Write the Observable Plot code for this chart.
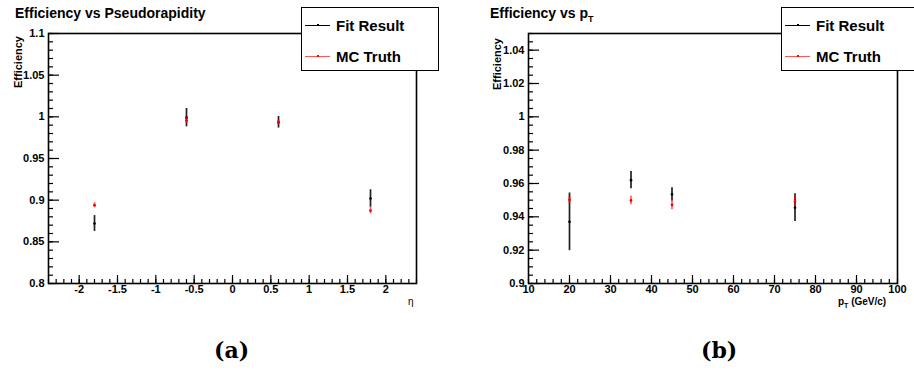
<!DOCTYPE html>
<html>
<head>
<meta charset="utf-8">
<script src="https://cdn.jsdelivr.net/npm/d3@7"></script>
<script src="https://cdn.jsdelivr.net/npm/@observablehq/plot@0.6"></script>
<style>
  html, body { margin: 0; padding: 0; background: #fff; }
  #wrap { position: relative; width: 914px; height: 392px; overflow: hidden; font-family: "Liberation Sans", Arial, sans-serif; }
  .panel { position: absolute; top: 0; }
  .abs { position: absolute; white-space: nowrap; color: #000; }
  .title { font-weight: bold; font-size: 14px; }
  .ylab { font-weight: bold; font-size: 11px; transform-origin: 0 0; transform: rotate(-90deg); }
  .legend { position: absolute; background: #fff; border: 1px solid #000; box-sizing: border-box; }
  .legend .row { position: absolute; font-weight: bold; font-size: 15px; line-height: 15px; }
  .legend .ln { position: absolute; height: 1px; }
  .legend .mk { position: absolute; width: 2px; height: 2px; }
  .cap { font-family: "DejaVu Serif", serif; font-weight: bold; font-size: 22px; }
</style>
</head>
<body>
<div id="wrap"></div>
<script>
// ---------- data ----------
const etaBins   = [-1.8, -0.6, 0.6, 1.8];
const etaFit    = [0.872, 0.999, 0.9935, 0.902];
const etaFitErr = [0.0095, 0.011, 0.007, 0.0105];
const etaMC     = [0.894, 0.9955, 0.9935, 0.8875];
const etaMCErr  = [0.003, 0.004, 0.003, 0.004];

const ptBins    = [20, 35, 45, 75];
const ptFit     = [0.937, 0.962, 0.9535, 0.9455];
const ptFitErr  = [0.0173, 0.0052, 0.004, 0.0083];
const ptMC      = [0.9502, 0.9498, 0.9472, 0.9492];
const ptMCErr   = [0.0025, 0.0025, 0.003, 0.0033];

// tick labels
const etaXTicks = [-2, -1.5, -1, -0.5, 0, 0.5, 1, 1.5, 2];
const etaYTicks = [0.8, 0.85, 0.9, 0.95, 1, 1.05, 1.1];
const ptXTicks  = [10, 20, 30, 40, 50, 60, 70, 80, 90, 100];
const ptYTicks  = [0.9, 0.92, 0.94, 0.96, 0.98, 1, 1.02, 1.04];

const series = (xs, ys, es) => xs.map((x, i) => ({x, y: ys[i], lo: ys[i] - es[i], hi: ys[i] + es[i]}));
const minor = (a, b, step) => d3.range(Math.round((b - a) / step) + 1).map(i => +(a + i * step).toFixed(4));
const fmt = d => String(+(+d).toFixed(3));

const H = 320, MT = 33, MB = 37;
const PH = H - MT - MB;

function panel({left, mL, mR, xDomain, yDomain, xTicks, yTicks, xMinorStep, yMinorStep, fit, mc}) {
  const W = 457;
  const PW = W - mL - mR;
  const xMin = minor(xDomain[0], xDomain[1], xMinorStep);
  const yMin = minor(yDomain[0], yDomain[1], yMinorStep);
  const p = Plot.plot({
    width: W, height: H,
    marginLeft: mL, marginRight: mR, marginTop: MT, marginBottom: MB,
    x: {domain: xDomain},
    y: {domain: yDomain},
    style: {fontFamily: "Liberation Sans, Arial, sans-serif", fontWeight: "bold", fontSize: "11px", background: "transparent", overflow: "visible", color: "#000"},
    marks: [
      // minor and major ticks, inside frame
      Plot.ruleX(xMin, {x: d => d, insetTop: PH - 4, stroke: "#000", strokeWidth: 1.2}),
      Plot.ruleX(xTicks.filter(v => v > xDomain[0] && v < xDomain[1]), {x: d => d, insetTop: PH - 8, stroke: "#000", strokeWidth: 1.2}),
      Plot.ruleY(yMin, {y: d => d, insetRight: PW - 5, stroke: "#000", strokeWidth: 1.2}),
      Plot.ruleY(yTicks, {y: d => d, insetRight: PW - 11, stroke: "#000", strokeWidth: 1.2}),
      Plot.axisX({ticks: xTicks, tickSize: 0, tickPadding: 2, tickFormat: fmt, label: null, fontSize: 11}),
      Plot.axisY({ticks: yTicks, tickSize: 0, tickPadding: 4, tickFormat: fmt, label: null, fontSize: 11}),
      Plot.frame({stroke: "#000", strokeWidth: 1.6}),
      // Fit result
      Plot.ruleX(fit, {x: "x", y1: "lo", y2: "hi", stroke: "#222", strokeWidth: 1.7}),
      Plot.dot(fit, {x: "x", y: "y", r: 1.3, fill: "#000", stroke: "none"}),
      // MC truth
      Plot.ruleX(mc, {x: "x", y1: "lo", y2: "hi", stroke: "red", strokeOpacity: 0.6, strokeWidth: 1.8}),
      Plot.dot(mc, {x: "x", y: "y", r: 1.4, fill: "red", stroke: "none"})
    ]
  });
  p.classList.add("panel");
  p.style.left = left + "px";
  return p;
}

const wrap = document.getElementById("wrap");

wrap.appendChild(panel({
  left: 0, mL: 48, mR: 41,
  xDomain: [-2.4, 2.4], yDomain: [0.8, 1.1],
  xTicks: etaXTicks, yTicks: etaYTicks, xMinorStep: 0.1, yMinorStep: 0.01,
  fit: series(etaBins, etaFit, etaFitErr),
  mc: series(etaBins, etaMC, etaMCErr)
}));

wrap.appendChild(panel({
  left: 457, mL: 71, mR: 17,
  xDomain: [10, 100], yDomain: [0.9, 1.05],
  xTicks: ptXTicks, yTicks: ptYTicks, xMinorStep: 2, yMinorStep: 0.005,
  fit: series(ptBins, ptFit, ptFitErr),
  mc: series(ptBins, ptMC, ptMCErr)
}));

function addText(html, cls, x, y, extra) {
  const d = document.createElement("div");
  d.className = "abs " + cls;
  d.innerHTML = html;
  d.style.left = x + "px";
  d.style.top = y + "px";
  if (extra) Object.assign(d.style, extra);
  wrap.appendChild(d);
  return d;
}

// titles
addText("Efficiency vs p<span style='font-size:14px'></span>seudorapidity".replace("p<span style='font-size:14px'></span>s", "Ps"), "title", 15, 5);
addText("Efficiency vs p<span style='font-size:9px;position:relative;top:4px'>T</span>", "title", 490, 5);

// y labels (rotated, ending at top of frame)
addText("Efficiency", "ylab", 12, 88);
addText("Efficiency", "ylab", 491, 90);

// x labels
addText("η", "", 408, 296, {fontSize: "10px"});
addText("p<span style='font-size:7px;position:relative;top:3px'>T</span> (GeV/c)", "", 838, 296, {fontSize: "10px", fontWeight: "bold"});

// legends
function legend(x, w) {
  const L = document.createElement("div");
  L.className = "legend";
  L.style.left = x + "px"; L.style.top = "7px";
  L.style.width = w + "px"; L.style.height = "64px";
  L.innerHTML =
    "<div class='ln' style='left:3px;top:17px;width:25px;background:#000'></div>" +
    "<div class='mk' style='left:15px;top:16px;background:#000'></div>" +
    "<div class='row' style='left:34px;top:10px'>Fit Result</div>" +
    "<div class='ln' style='left:3px;top:48px;width:25px;background:#f55'></div>" +
    "<div class='mk' style='left:15px;top:47px;background:red'></div>" +
    "<div class='row' style='left:34px;top:41px'>MC Truth</div>";
  wrap.appendChild(L);
}
legend(301, 138);
legend(781, 150);

// captions
addText("(a)", "cap", 214, 337);
addText("(b)", "cap", 701, 337);
</script>
</body>
</html>
